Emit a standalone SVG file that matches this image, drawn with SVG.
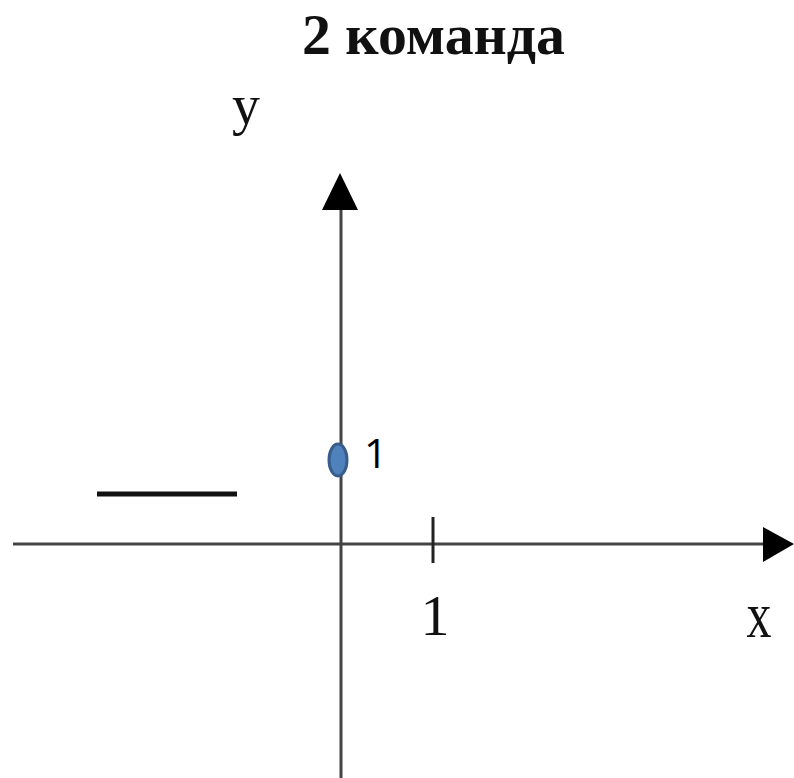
<svg xmlns="http://www.w3.org/2000/svg" width="794" height="778" viewBox="0 0 794 778">
<style>
.serif{font-family:"Liberation Serif","Times New Roman",serif;fill:#111}
.axis{stroke:#444;stroke-width:3;fill:none}
</style>
<rect width="794" height="778" fill="#fff"/>
<g id="title"><text class="serif" x="302" y="54" font-size="56" font-weight="bold" textLength="263" lengthAdjust="spacingAndGlyphs">2 команда</text></g>
<g id="connectors">
<line class="axis" x1="341" y1="205" x2="341" y2="778"/>
<polygon points="340,173 358,210 322,210" fill="#000"/>
<line class="axis" x1="13" y1="544" x2="768" y2="544"/>
<polygon points="794,544 763,527 763,562" fill="#000"/>
<line x1="433" y1="517" x2="433" y2="563" stroke="#222" stroke-width="3"/>
<line x1="97" y1="494" x2="237" y2="494" stroke="#111" stroke-width="5"/>
</g>
<g id="label-y"><text class="serif" x="246" y="124" font-size="56" text-anchor="middle">y</text></g>
<g id="label-x"><text class="serif" x="759" y="637" font-size="50" text-anchor="middle" transform="translate(759 637) scale(1 1.3) translate(-759 -637)">x</text></g>
<g id="label-one"><text class="serif" x="435" y="635" font-size="58" text-anchor="middle">1</text></g>
<g id="point"><ellipse cx="338" cy="460" rx="9" ry="16" fill="#4f81bd" stroke="#385d8a" stroke-width="3"/></g>
<g id="point-label"><text x="364" y="468" font-family="'Open Sans','Liberation Sans',sans-serif" font-size="41" fill="#000">1</text></g>
</svg>
